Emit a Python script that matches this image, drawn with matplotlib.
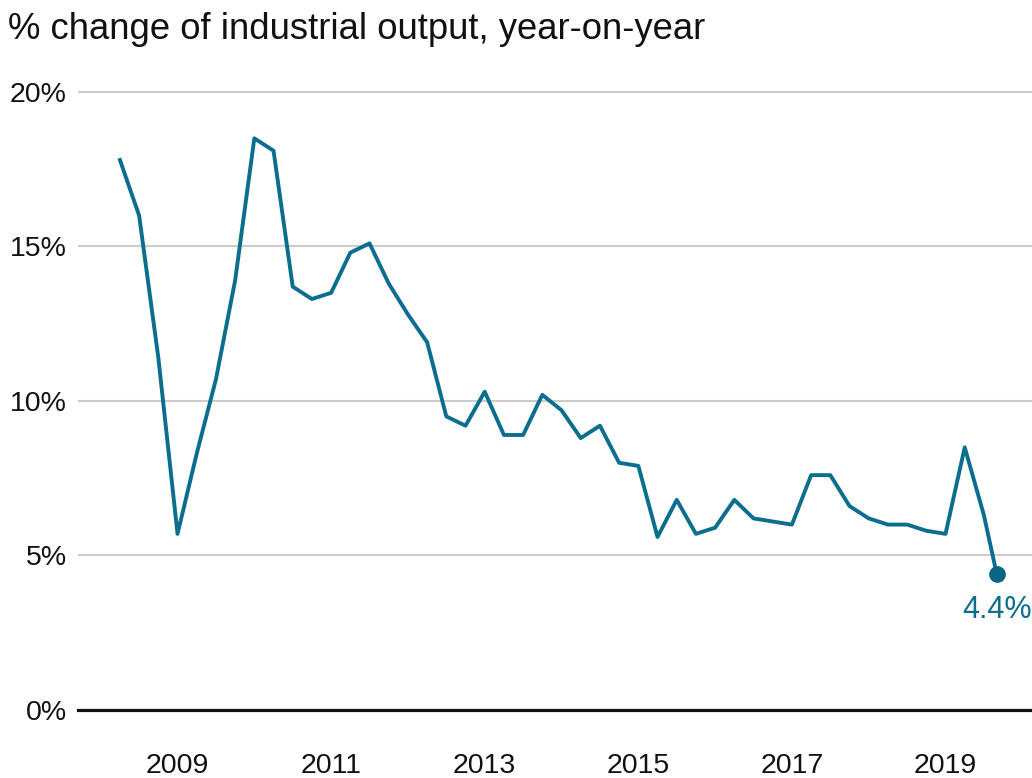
import numpy as np
import matplotlib
matplotlib.use('Agg')
import matplotlib.pyplot as plt

plt.rcParams['font.family'] = ['Liberation Sans', 'DejaVu Sans']

# quarterly readings (Mar, Jun, Sep, Dec) from Mar 2008, then Aug 2019
years = [2008] * 4 + [2009] * 4 + [2010] * 4 + [2011] * 4 + [2012] * 4 + [2013] * 4 \
    + [2014] * 4 + [2015] * 4 + [2016] * 4 + [2017] * 4 + [2018] * 4 + [2019] * 3
months = [3, 6, 9, 12] * 11 + [3, 6, 8]
output = [17.8, 16.0, 11.4, 5.7,
          8.3, 10.7, 13.9, 18.5,
          18.1, 13.7, 13.3, 13.5,
          14.8, 15.1, 13.8, 12.8,
          11.9, 9.5, 9.2, 10.3,
          8.9, 8.9, 10.2, 9.7,
          8.8, 9.2, 8.0, 7.9,
          5.6, 6.8, 5.7, 5.9,
          6.8, 6.2, 6.1, 6.0,
          7.6, 7.6, 6.6, 6.2,
          6.0, 6.0, 5.8, 5.7,
          8.5, 6.3, 4.4]
year_ticks = [2009, 2011, 2013, 2015, 2017, 2019]
pct_ticks = [0, 5, 10, 15, 20]

t = np.array(years) + np.array(months) / 12.0
line_col = '#0b6e8e'

fig = plt.figure(figsize=(10.32, 7.78), dpi=100)
ax = fig.add_axes([78 / 1032, 1 - 710 / 778, 1 - 78 / 1032, (710 - 82.7) / 778])

ax.plot(t, output, color=line_col, lw=2.8, solid_joinstyle='round', zorder=3)
ax.plot(t[-1], output[-1], 'o', color='#086584', ms=11, zorder=4, clip_on=False)
ax.annotate(f'{output[-1]:.1f}%', (t[-1], output[-1]), xytext=(0, -26),
            textcoords='offset points', ha='center', va='center',
            fontsize=22, color=line_col)

ax.set_xlim(2007.704, 2020.126)
ax.set_ylim(0, 20.3)
ax.set_xticks(year_ticks)
ax.set_xticklabels([str(y) for y in year_ticks])
ax.set_yticks(pct_ticks)
ax.set_yticklabels([f'{p}%' for p in pct_ticks])
ax.grid(axis='y', color='#cccccc', lw=1.5)
ax.set_axisbelow(True)
for s in ['top', 'right', 'left']:
    ax.spines[s].set_visible(False)
ax.spines['bottom'].set_color('#111111')
ax.spines['bottom'].set_linewidth(2.3)
ax.tick_params(axis='y', length=0, pad=8, labelsize=20.5, labelcolor='#111111')
ax.tick_params(axis='x', length=0, pad=31, labelsize=20.5, labelcolor='#111111')

fig.text(8 / 1032, 1 - 39 / 778, '% change of industrial output, year-on-year',
         fontsize=26.3, va='baseline', ha='left', color='#111111')

fig.savefig('out.png', dpi=100)
